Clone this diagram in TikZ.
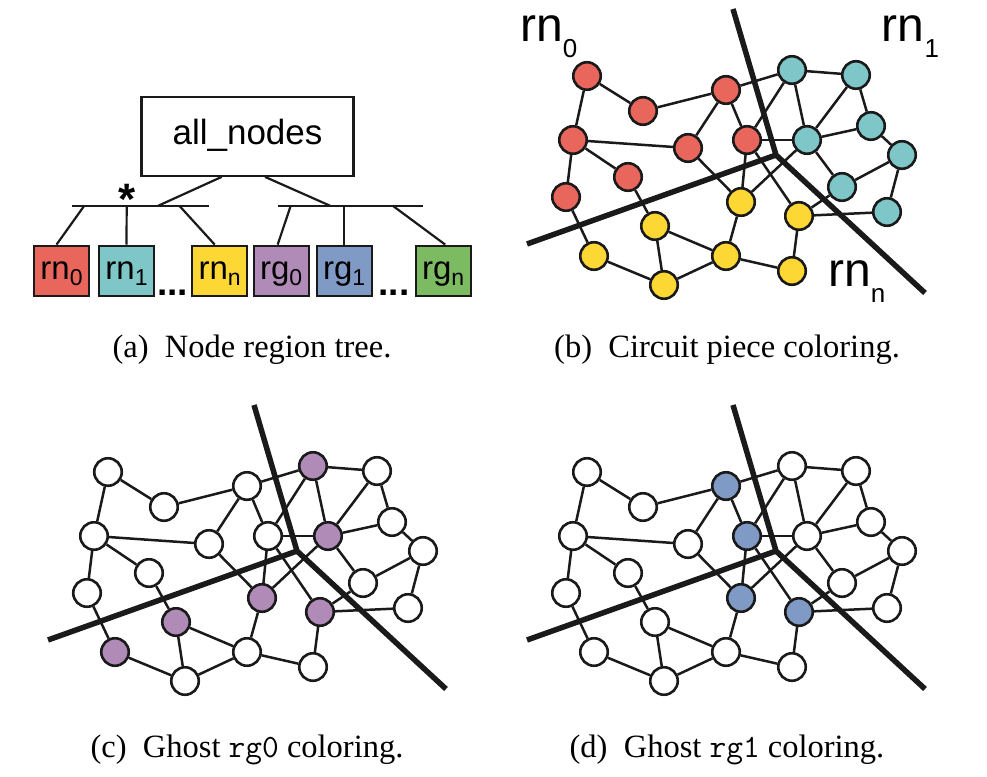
\documentclass[tikz,border=0pt]{standalone}
\usepackage{fontspec}
\setmainfont{Liberation Serif}
\setsansfont{Liberation Sans}
\usetikzlibrary{positioning}
\definecolor{rnred}{HTML}{E8665C}
\definecolor{rncyan}{HTML}{7EC6C8}
\definecolor{rnyellow}{HTML}{FDD835}
\definecolor{rgpurple}{HTML}{B18BB7}
\definecolor{rgblue}{HTML}{7F9AC4}
\definecolor{rggreen}{HTML}{7DBB63}
\definecolor{inkgray}{HTML}{1A1A1A}
\newcommand{\bigsub}[1]{\raisebox{-16pt}{\fontsize{26}{26}\selectfont #1}}
\newcommand{\boxsub}[1]{\raisebox{-6pt}{\fontsize{23}{23}\selectfont #1}}

\begin{document}
\begin{tikzpicture}[
  x=1pt, y=-1pt,
  every node/.style={inner sep=0pt},
  treeline/.style={draw=inkgray, line width=2.2pt},
  rootbox/.style={rectangle, draw=inkgray, fill=white, line width=2.4pt, minimum width=212pt, minimum height=79pt, font=\sffamily\fontsize{35}{35}\selectfont, text height=16pt, text depth=0pt},
  regbox/.style={rectangle, draw=inkgray, line width=2.4pt, minimum width=55pt, minimum height=50pt, font=\sffamily\fontsize{33}{33}\selectfont, text height=17pt, text depth=0pt},
  gnode/.style={circle, draw=inkgray, line width=2.6pt, minimum size=27.5pt},
  gedge/.style={draw=inkgray, line width=2.5pt},
  cutline/.style={draw=inkgray, line width=5.5pt},
  bigtag/.style={font=\sffamily\fontsize{48}{48}\selectfont, anchor=base west},
  subcap/.style={font=\fontsize{32.5}{32.5}\selectfont, anchor=base},
]
\useasboundingbox (0,0) rectangle (987,776);

% (a) node region tree
\node[rootbox] (all) at (247.5,136.2) {all\_nodes};
\node[regbox, fill=rnred] (rn0) at (61.5,270.8) {rn\boxsub{0}};
\node[regbox, fill=rncyan] (rn1) at (126.5,270.8) {rn\boxsub{1}};
\node[regbox, fill=rnyellow] (rnn) at (219.7,270.8) {rn\boxsub{n}};
\node[regbox, fill=rgpurple] (rg0) at (281.2,270.8) {rg\boxsub{0}};
\node[regbox, fill=rgblue] (rg1) at (344.2,270.8) {rg\boxsub{1}};
\node[regbox, fill=rggreen] (rgn) at (443.2,270.8) {rg\boxsub{n}};
\node[font=\sffamily\bfseries\fontsize{37}{37}\selectfont, anchor=base] (dotsl) at (172.5,295) {...};
\node[font=\sffamily\bfseries\fontsize{37}{37}\selectfont, anchor=base] (dotsr) at (394,295) {...};
\node[font=\sffamily\bfseries\fontsize{44}{44}\selectfont, anchor=base] (star) at (126.7,214) {*};

\coordinate (lbarw) at (71.7,205.7);
\coordinate (lbare) at (209.3,205.7);
\coordinate (rbarw) at (278.3,205.7);
\coordinate (rbare) at (422.7,205.7);
\coordinate (ljoin) at (158.3,205.7);
\coordinate (rjoin) at (330,205.7);
\coordinate (lb0) at (84.3,205.7);
\coordinate (lb1) at (126.7,205.7);
\coordinate (lbn) at (179.3,205.7);
\coordinate (rb0) at (290.7,205.7);
\coordinate (rb1) at (344.2,205.7);
\coordinate (rbn) at (392.7,205.7);

\draw[treeline] (lbarw) -- (lbare);
\draw[treeline] (rbarw) -- (rbare);
\draw[treeline] ([xshift=-25.8pt]all.south) -- (ljoin);
\draw[treeline] ([xshift=17.5pt]all.south) -- (rjoin);
\draw[treeline] (lb0) -- ([xshift=-5pt]rn0.north);
\draw[treeline] (lb1) -- (rn1.north);
\draw[treeline] (lbn) -- ([xshift=-5pt]rnn.north);
\draw[treeline] (rb0) -- ([xshift=-3.5pt]rg0.north);
\draw[treeline] (rb1) -- (rg1.north);
\draw[treeline] (rbn) -- ([xshift=2pt]rgn.north);

% (b), (c), (d) the same circuit graph, coloured three ways
\foreach \p/\dx/\dy/\k in {b/0/0/1, c/-479/396/2, d/0/396/3} {
  \begin{scope}[shift={(\dx,\dy)}]
    \coordinate (\p-top) at (733,9);
    \coordinate (\p-mid) at (776,155);
    \coordinate (\p-left) at (527,244);
    \coordinate (\p-right) at (925,293);
    \draw[cutline] (\p-top) -- (\p-mid) -- (\p-right);
    \draw[cutline] (\p-left) -- (\p-mid);
    \foreach \n/\x/\y/\fb/\fc/\fd in {
      r1/587/76/rnred/white/white, r2/643/111/rnred/white/white,
      r3/726/90/rnred/white/rgblue, r4/573/140/rnred/white/white,
      r5/688/148/rnred/white/white, r6/747/140/rnred/white/rgblue,
      r7/628/177/rnred/white/white, r8/566/197/rnred/white/white,
      c1/792/70/rncyan/rgpurple/white, c2/856/75/rncyan/white/white,
      c3/871/126/rncyan/white/white, c4/807/140/rncyan/rgpurple/white,
      c5/902/155/rncyan/white/white, c6/842/187/rncyan/white/white,
      c7/887/212/rncyan/white/white,
      y1/741/202/rnyellow/rgpurple/rgblue, y2/799/216/rnyellow/rgpurple/rgblue,
      y3/655/226/rnyellow/rgpurple/white, y4/594/256/rnyellow/rgpurple/white,
      y5/726/256/rnyellow/white/white, y6/792/271/rnyellow/white/white,
      y7/664/285/rnyellow/white/white} {
      \ifcase\k\or\def\f{\fb}\or\def\f{\fc}\or\def\f{\fd}\fi
      \node[gnode, fill=\f] (\p\n) at (\x,\y) {};
    }
    \foreach \a/\b in {r1/r2, r2/r3, r1/r4, r4/r5, r4/r7, r4/r8, r3/r5, r3/r6,
      r3/c1, r6/c1, r6/c4, r6/y1, r6/y2, r5/y1, r7/y3, r8/y4, y3/y5, y3/y7,
      y4/y7, y7/y5, y1/y5, y5/y6, y2/y6, y2/c7, y2/c6, y1/c4, c1/c2, c1/c4,
      c2/c4, c2/c3, c3/c4, c3/c5, c4/c6, c5/c6, c5/c7}
      \draw[gedge] (\p\a) -- (\p\b);
  \end{scope}
}

% piece names
\node[bigtag] (tag0) at (520,41.7) {rn\bigsub{0}};
\node[bigtag] (tag1) at (881.7,41.7) {rn\bigsub{1}};
\node[bigtag] (tagn) at (828,286.7) {rn\bigsub{n}};

% captions
\node[subcap] (capa) at (252,357) {(a)\enskip Node region tree.};
\node[subcap] (capb) at (727,357) {(b)\enskip Circuit piece coloring.};
\node[subcap] (capc) at (247,757) {(c)\enskip Ghost \texttt{rg0} coloring.};
\node[subcap] (capd) at (727,757) {(d)\enskip Ghost \texttt{rg1} coloring.};

\end{tikzpicture}
\end{document}
